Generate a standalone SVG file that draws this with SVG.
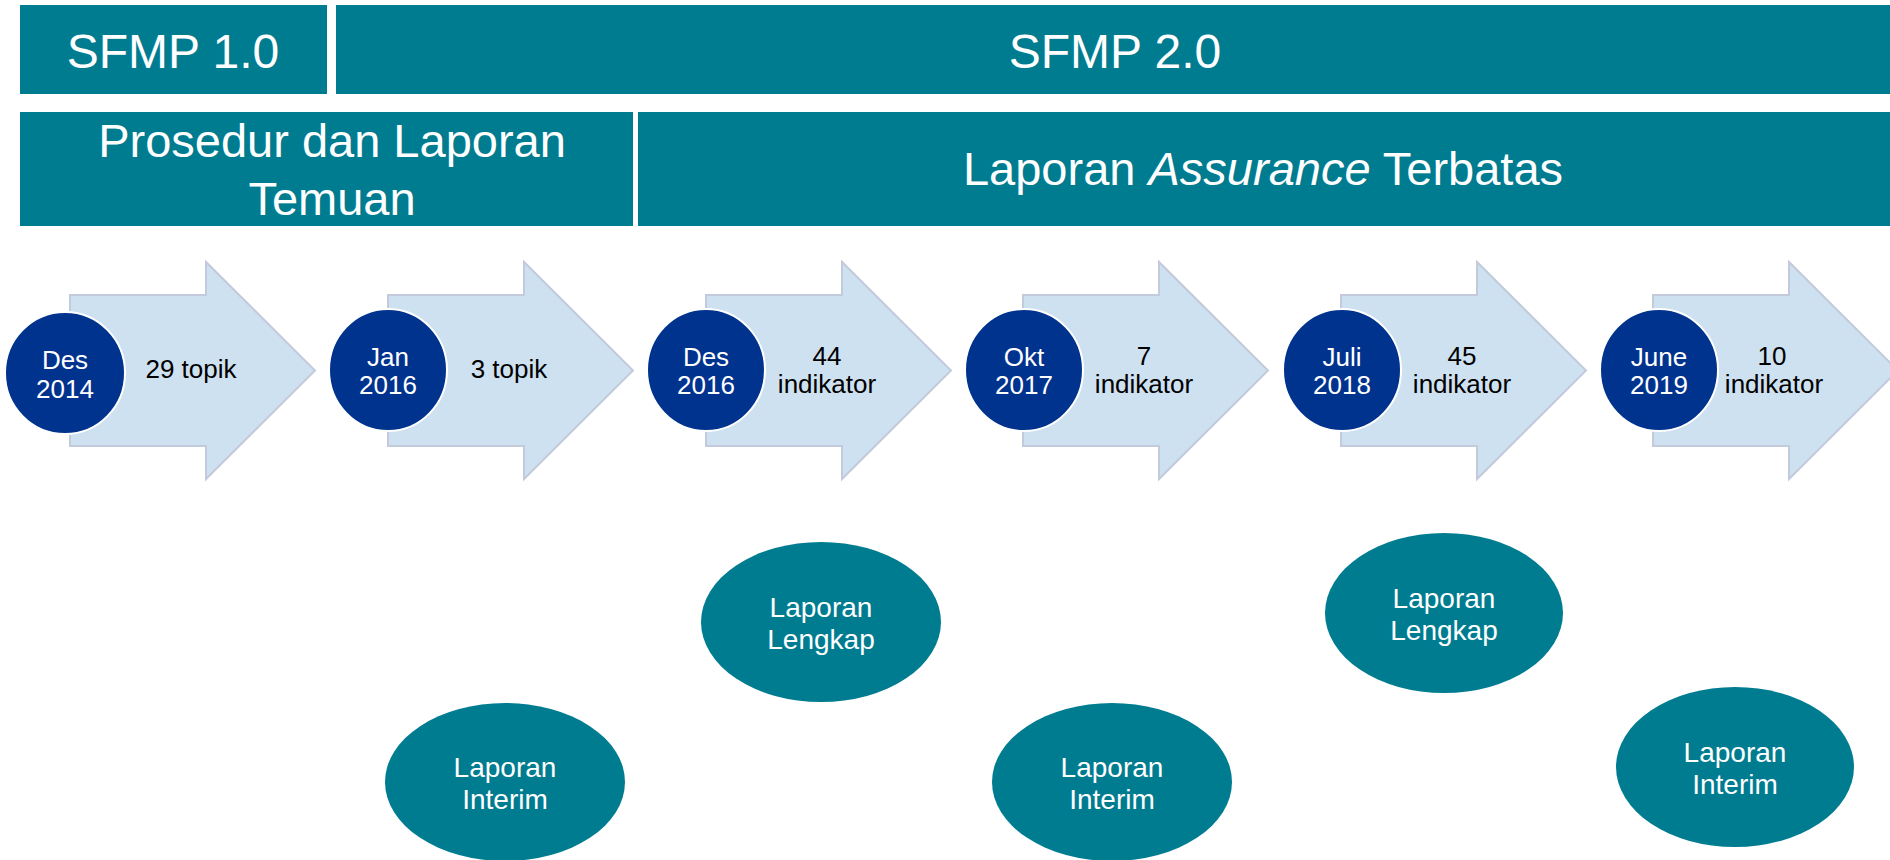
<svg xmlns="http://www.w3.org/2000/svg" width="1890" height="860" viewBox="0 0 1890 860">
<defs>
<style>
.hdr{fill:#007C91;}
.htxt{fill:#FFFFFF;font-family:"Liberation Sans",Arial,sans-serif;text-anchor:middle;}
.arrow{fill:#CEE1F1;stroke:#C3CADB;stroke-width:2;}
.date{fill:#00338E;stroke:#FFFFFF;stroke-width:2;}
.dtxt{fill:#FFFFFF;font-family:"Liberation Sans",Arial,sans-serif;font-size:26px;text-anchor:middle;}
.atxt{fill:#000000;font-family:"Liberation Sans",Arial,sans-serif;font-size:26px;text-anchor:middle;}
.oval{fill:#007C91;}
.otxt{fill:#FFFFFF;font-family:"Liberation Sans",Arial,sans-serif;font-size:28px;text-anchor:middle;}
</style>
</defs>
<rect width="1890" height="860" fill="#FFFFFF"/>

<g id="sfmp1">
<rect class="hdr" x="20" y="5" width="307" height="89"/>
<text class="htxt" x="173" y="68" font-size="48">SFMP 1.0</text>
</g>
<g id="sfmp2">
<rect class="hdr" x="336" y="5" width="1554" height="89"/>
<text class="htxt" x="1115" y="68" font-size="48">SFMP 2.0</text>
</g>
<g id="prosedur">
<rect class="hdr" x="20" y="112" width="613" height="114"/>
<text class="htxt" x="332" y="157" font-size="47">Prosedur dan Laporan</text>
<text class="htxt" x="332" y="215" font-size="47">Temuan</text>
</g>
<g id="assurance">
<rect class="hdr" x="638" y="112" width="1252" height="114"/>
<text class="htxt" x="1263" y="185" font-size="47">Laporan <tspan font-style="italic">Assurance</tspan> Terbatas</text>
</g>

<g id="step1">
<path class="arrow" d="M70,295 H206 V262 L315,370.5 L206,479 V446 H70 Z"/>
<text class="atxt" x="191" y="378">29 topik</text>
<ellipse class="date" cx="65" cy="373" rx="60" ry="61"/>
<text class="dtxt" x="65" y="369">Des</text>
<text class="dtxt" x="65" y="398">2014</text>
</g>
<g id="step2">
<path class="arrow" d="M388,295 H524 V262 L633,370.5 L524,479 V446 H388 Z"/>
<text class="atxt" x="509" y="378">3 topik</text>
<ellipse class="date" cx="388" cy="370" rx="59" ry="61"/>
<text class="dtxt" x="388" y="366">Jan</text>
<text class="dtxt" x="388" y="394">2016</text>
</g>
<g id="step3">
<path class="arrow" d="M706,295 H842 V262 L951,370.5 L842,479 V446 H706 Z"/>
<text class="atxt" x="827" y="365">44</text>
<text class="atxt" x="827" y="393">indikator</text>
<ellipse class="date" cx="706" cy="370" rx="59" ry="61"/>
<text class="dtxt" x="706" y="366">Des</text>
<text class="dtxt" x="706" y="394">2016</text>
</g>
<g id="step4">
<path class="arrow" d="M1023,295 H1159 V262 L1268,370.5 L1159,479 V446 H1023 Z"/>
<text class="atxt" x="1144" y="365">7</text>
<text class="atxt" x="1144" y="393">indikator</text>
<ellipse class="date" cx="1024" cy="370" rx="59" ry="61"/>
<text class="dtxt" x="1024" y="366">Okt</text>
<text class="dtxt" x="1024" y="394">2017</text>
</g>
<g id="step5">
<path class="arrow" d="M1341,295 H1477 V262 L1586,370.5 L1477,479 V446 H1341 Z"/>
<text class="atxt" x="1462" y="365">45</text>
<text class="atxt" x="1462" y="393">indikator</text>
<ellipse class="date" cx="1342" cy="370" rx="59" ry="61"/>
<text class="dtxt" x="1342" y="366">Juli</text>
<text class="dtxt" x="1342" y="394">2018</text>
</g>
<g id="step6">
<path class="arrow" d="M1653,295 H1789 V262 L1898,370.5 L1789,479 V446 H1653 Z"/>
<text class="atxt" x="1772" y="365">10</text>
<text class="atxt" x="1774" y="393">indikator</text>
<ellipse class="date" cx="1659" cy="370" rx="59" ry="61"/>
<text class="dtxt" x="1659" y="366">June</text>
<text class="dtxt" x="1659" y="394">2019</text>
</g>

<g id="interim1">
<ellipse class="oval" cx="505" cy="782" rx="120" ry="79"/>
<text class="otxt" x="505" y="777">Laporan</text>
<text class="otxt" x="505" y="809">Interim</text>
</g>
<g id="lengkap1">
<ellipse class="oval" cx="821" cy="622" rx="120" ry="80"/>
<text class="otxt" x="821" y="617">Laporan</text>
<text class="otxt" x="821" y="649">Lengkap</text>
</g>
<g id="interim2">
<ellipse class="oval" cx="1112" cy="782" rx="120" ry="79"/>
<text class="otxt" x="1112" y="777">Laporan</text>
<text class="otxt" x="1112" y="809">Interim</text>
</g>
<g id="lengkap2">
<ellipse class="oval" cx="1444" cy="613" rx="119" ry="80"/>
<text class="otxt" x="1444" y="608">Laporan</text>
<text class="otxt" x="1444" y="640">Lengkap</text>
</g>
<g id="interim3">
<ellipse class="oval" cx="1735" cy="767" rx="119" ry="80"/>
<text class="otxt" x="1735" y="762">Laporan</text>
<text class="otxt" x="1735" y="794">Interim</text>
</g>

<g id="connectors"/>
</svg>
